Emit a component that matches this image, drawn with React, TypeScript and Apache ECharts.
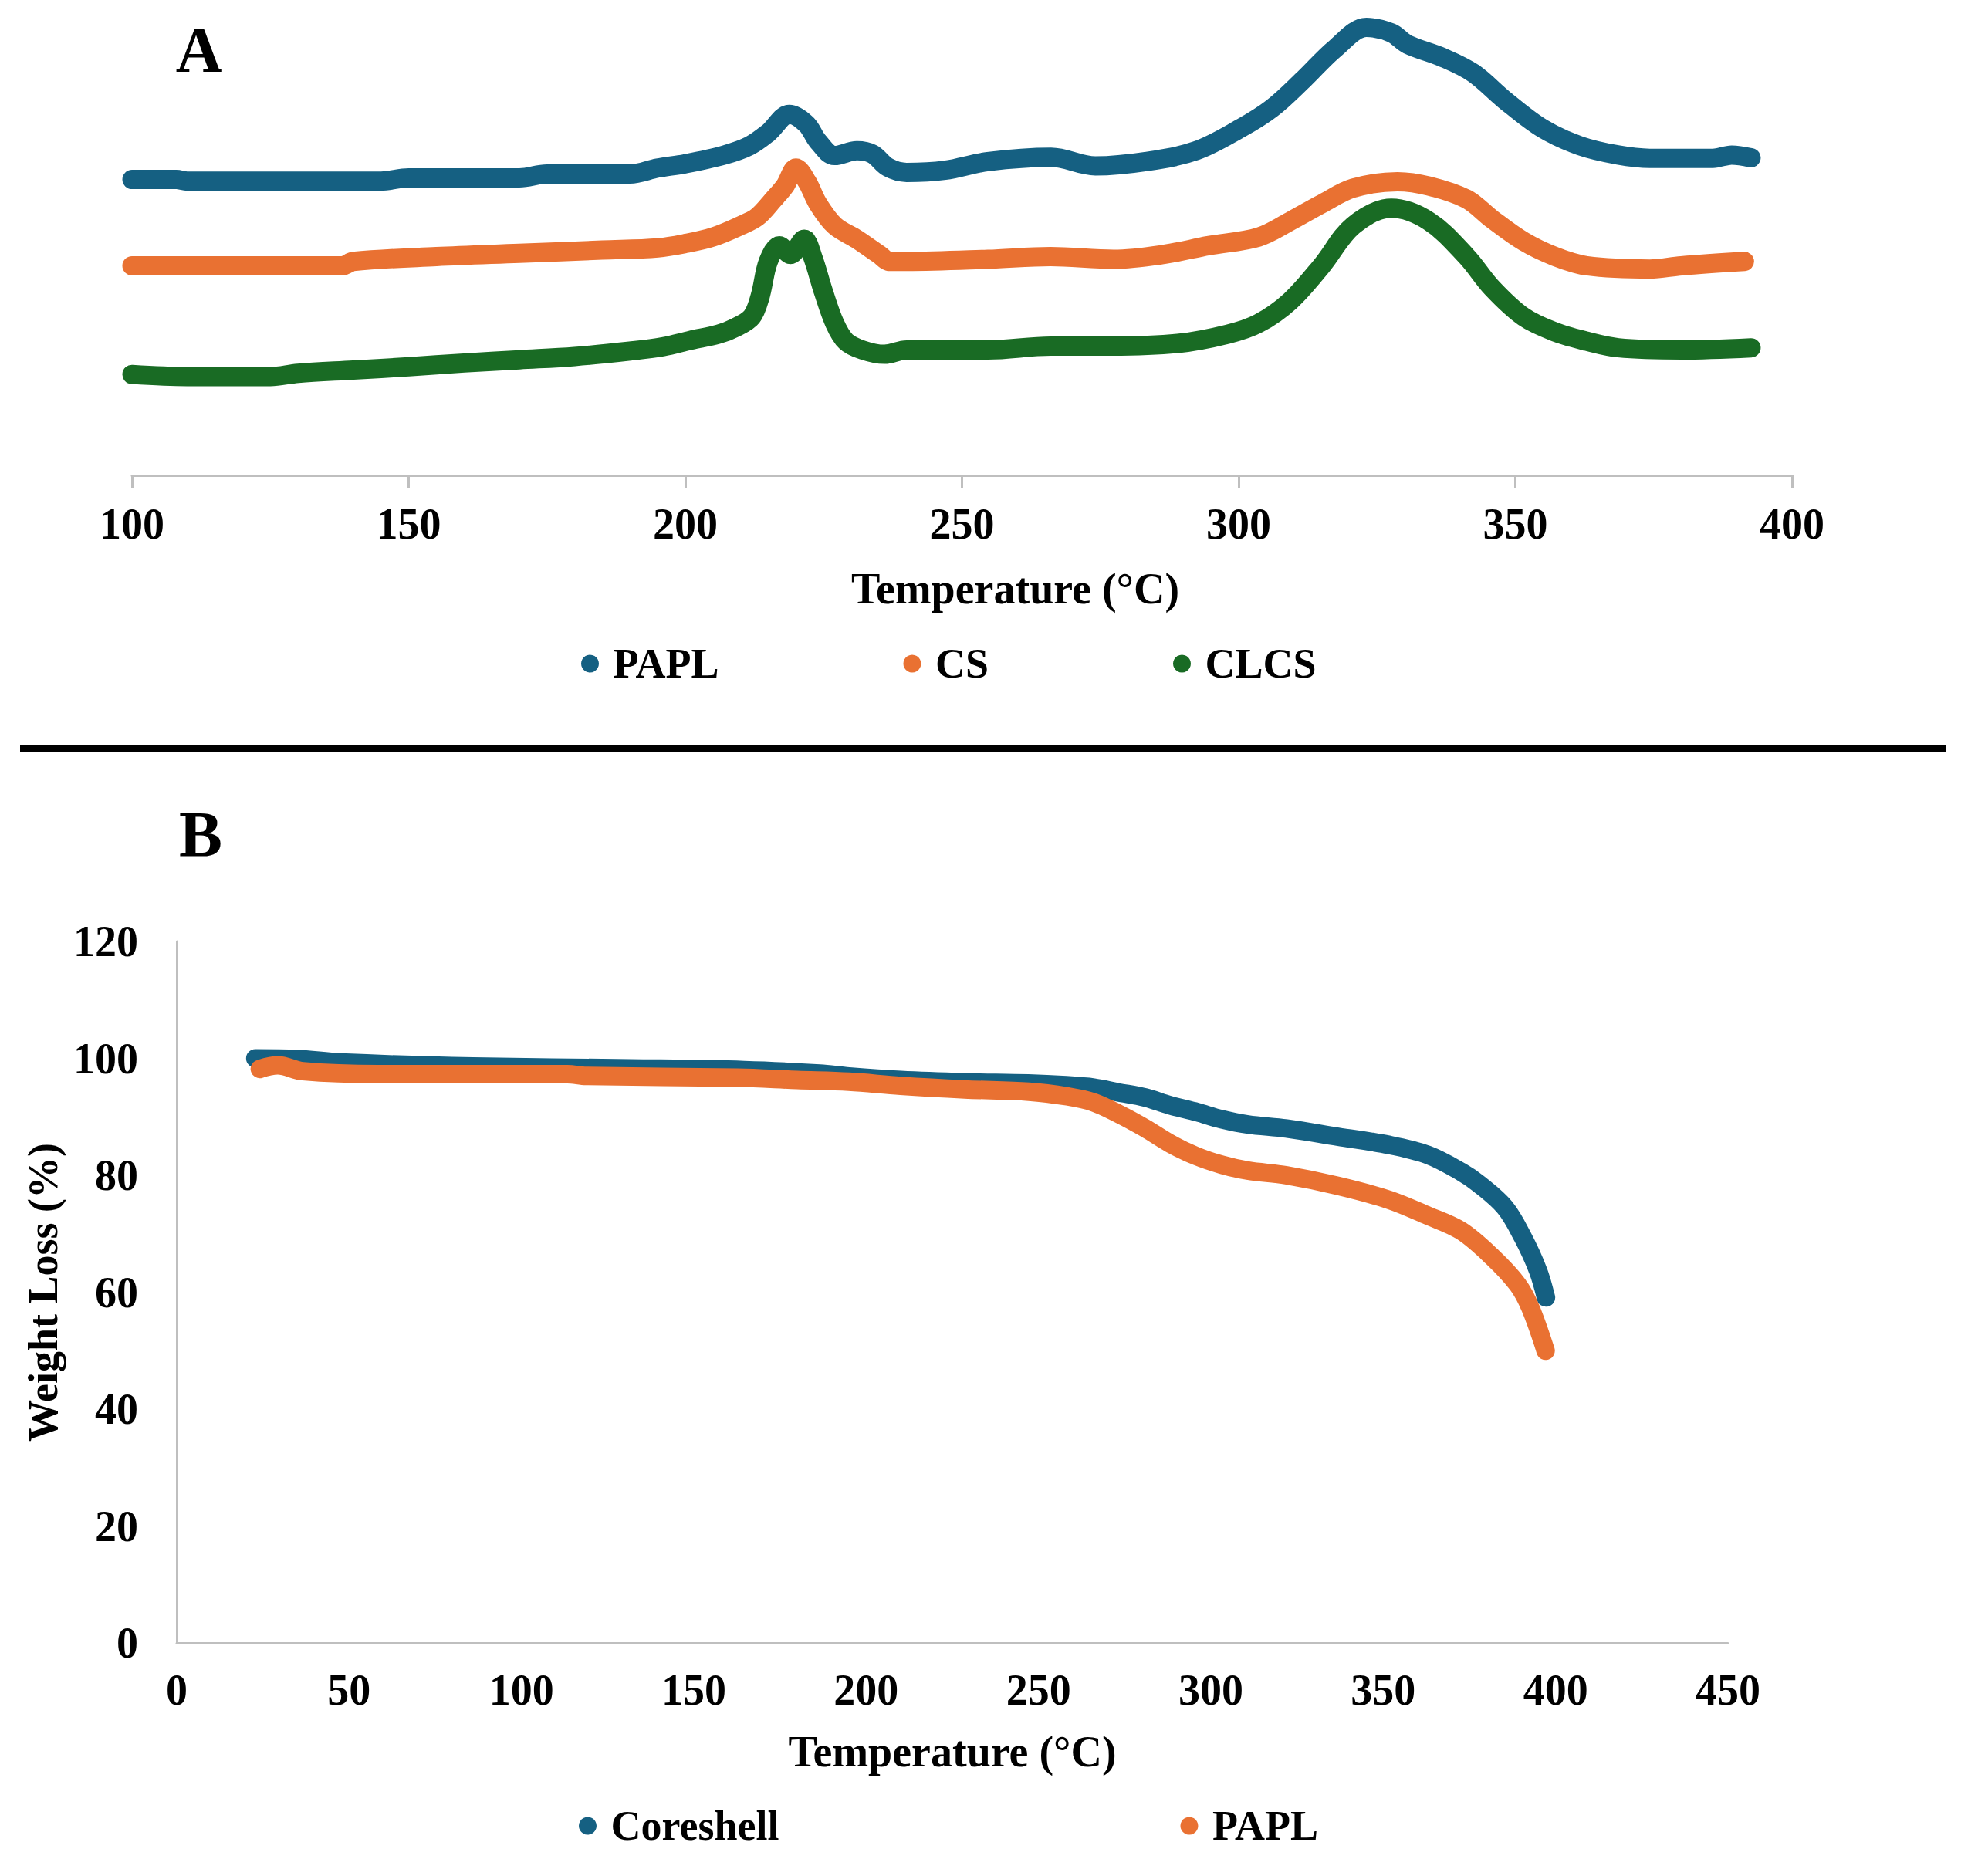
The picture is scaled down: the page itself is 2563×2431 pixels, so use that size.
import React, { useEffect, useRef } from "react";
import * as echarts from "echarts";

// ---------- Panel A : DSC curves (temperature °C, heat flow a.u.) ----------
const dscPAPL: [number, number][] = [
  [100, 5.45], [108, 5.45], [110, 5.42], [145, 5.42], [150, 5.48], [170, 5.48],
  [175, 5.55], [190, 5.55], [195, 5.66], [200, 5.74], [207, 5.9], [211.6, 6.07],
  [215, 6.31], [218.8, 6.65], [221.9, 6.47], [224, 6.15], [227, 5.89], [231, 5.98],
  [233.8, 5.92], [236.7, 5.67], [240, 5.58], [246.9, 5.62], [254.7, 5.78], [266.1, 5.86],
  [274.1, 5.7], [283.2, 5.78], [292.3, 5.98], [300.3, 6.39], [306, 6.76], [311.7, 7.29],
  [317.4, 7.86], [323.1, 8.25], [327.6, 8.15], [330.5, 7.94], [336.8, 7.7], [342.4, 7.41],
  [348, 6.92], [354.9, 6.39], [361.7, 6.07], [368.6, 5.9], [374.3, 5.84], [385.7, 5.84],
  [389.1, 5.9], [392.6, 5.85],
];
const dscCS: [number, number][] = [
  [100, 3.86], [138, 3.86], [140, 3.94], [155, 4.03], [170, 4.09], [185, 4.15],
  [195, 4.19], [200, 4.27], [205, 4.39], [210, 4.6], [213, 4.76], [216, 5.09],
  [218, 5.33], [220, 5.66], [222, 5.41], [224, 5.0], [227, 4.6], [231, 4.35],
  [235, 4.07], [237, 3.94], [240, 3.94], [254.7, 3.98], [266, 4.03], [277.4, 3.98],
  [286.5, 4.07], [294.5, 4.23], [303.6, 4.39], [309.3, 4.68], [315, 5.0], [320.7, 5.29],
  [328.7, 5.41], [334.4, 5.33], [341.2, 5.09], [345.8, 4.72], [351.5, 4.31], [357.2, 4.03],
  [362.9, 3.86], [374.3, 3.8], [380, 3.86], [391.4, 3.94],
];
const dscCLCS: [number, number][] = [
  [100, 1.86], [110, 1.82], [125, 1.82], [130, 1.88], [140, 1.94], [150, 2.0],
  [160, 2.07], [170, 2.13], [180, 2.19], [190, 2.29], [196, 2.37], [201, 2.49],
  [206, 2.6], [209, 2.72], [212, 2.92], [213.5, 3.29], [215, 3.94], [217, 4.23],
  [219, 4.07], [221.5, 4.35], [223, 4.03], [225, 3.37], [227, 2.8], [229, 2.47],
  [232, 2.31], [236, 2.23], [240, 2.31], [254.7, 2.31], [266, 2.38], [277, 2.38],
  [289, 2.43], [298, 2.6], [303.6, 2.8], [309.3, 3.21], [315, 3.86], [320.7, 4.6],
  [327.6, 4.92], [334.4, 4.68], [341.2, 4.03], [345.8, 3.45], [351.5, 2.92], [357.2, 2.64],
  [362.9, 2.47], [368.6, 2.35], [380, 2.31], [392.6, 2.35],
];

// ---------- Panel B : TGA curves (temperature °C, weight %) ----------
const tgaCoreshell: [number, number][] = [
  [22.8, 100.0], [34.7, 99.9], [47.5, 99.3], [85.9, 98.6], [131.6, 98.3], [164.6, 98.0],
  [186.5, 97.4], [195, 96.9], [210, 96.3], [228.6, 95.9], [247, 95.7], [258, 95.4],
  [266, 95.0], [273, 94.2], [281, 93.3], [288, 92.0], [296, 90.8], [303, 89.6],
  [310.7, 88.7], [321.9, 88.0], [336.8, 86.6], [351.7, 85.2], [362.9, 83.5], [372.6, 80.6],
  [377.8, 78.5], [385.3, 74.5], [390.5, 69.4], [394.9, 63.7], [397.2, 59.1],
];
const tgaPAPL: [number, number][] = [
  [24.1, 98.2], [29.3, 98.8], [36.6, 97.8], [58.5, 97.3], [113.3, 97.3], [118.8, 97.0],
  [162.7, 96.7], [180, 96.3], [195, 96.0], [210, 95.3], [228.6, 94.7], [247.2, 94.3],
  [258.4, 93.5], [265.9, 92.5], [273.3, 90.5], [280.8, 88.1], [288.3, 85.4], [295.7, 83.3],
  [303.2, 81.8], [310.7, 80.8], [321.9, 80.0], [336.8, 78.2], [351.7, 75.8], [362.9, 73.1],
  [372.6, 70.5], [381.5, 66.1], [389, 61.3], [392.7, 57.3], [397.1, 50.0],
];

const legendA = ["PAPL", "CS", "CLCS"];
const legendB = ["Coreshell", "PAPL"];

const BLUE = "#156082";
const ORANGE = "#E97132";
const GREEN = "#196B24";
const AXIS_GRAY = "#bfbfbf";
const FONT = "'Times New Roman', 'Liberation Serif', Tinos, serif";

const textBase = { fontFamily: FONT, fontWeight: "bold" as const, color: "#000" };

function lineSeries(name: string, data: [number, number][], color: string, idx: number, width: number) {
  return {
    name,
    type: "line",
    xAxisIndex: idx,
    yAxisIndex: idx,
    data,
    showSymbol: false,
    smooth: 0.35,
    color,
    lineStyle: { color, width, cap: "round", join: "round" },
    emphasis: { disabled: true },
  };
}

export default function App() {
  const ref = useRef<HTMLDivElement>(null);

  useEffect(() => {
    document.body.style.margin = "0";
    document.documentElement.style.overflow = "hidden";
    if (!ref.current) return;
    const chart = echarts.init(ref.current, undefined, { renderer: "svg" });
    chart.setOption({
      animation: false,
      backgroundColor: "#ffffff",
      grid: [
        { left: 171, width: 2151, top: 18, height: 598 },
        { left: 229, width: 2010, top: 1220, height: 909 },
      ],
      xAxis: [
        {
          gridIndex: 0,
          type: "value",
          min: 100,
          max: 400,
          interval: 50,
          axisLine: { show: true, onZero: false, lineStyle: { color: AXIS_GRAY, width: 3 } },
          axisTick: { show: true, length: 17, lineStyle: { color: AXIS_GRAY, width: 3 } },
          splitLine: { show: false },
          axisLabel: { ...textBase, fontSize: 56, margin: 35 },
          name: "Temperature (°C)",
          nameLocation: "middle",
          nameGap: 119,
          nameTextStyle: { ...textBase, fontSize: 56, padding: [0, 0, 0, 138] },
        },
        {
          gridIndex: 1,
          type: "value",
          min: 0,
          max: 450,
          interval: 50,
          axisLine: { show: true, onZero: false, lineStyle: { color: AXIS_GRAY, width: 3 } },
          axisTick: { show: false },
          splitLine: { show: false },
          axisLabel: { ...textBase, fontSize: 56, margin: 33 },
          name: "Temperature (°C)",
          nameLocation: "middle",
          nameGap: 113,
          nameTextStyle: { ...textBase, fontSize: 56 },
        },
      ],
      yAxis: [
        { gridIndex: 0, type: "value", min: 0, max: 8.5, show: false },
        {
          gridIndex: 1,
          type: "value",
          min: 0,
          max: 120,
          interval: 20,
          axisLine: { show: true, onZero: false, lineStyle: { color: AXIS_GRAY, width: 3 } },
          axisTick: { show: false },
          splitLine: { show: false },
          axisLabel: { ...textBase, fontSize: 56, margin: 50 },
          name: "Weight Loss (%)",
          nameLocation: "middle",
          nameRotate: 90,
          nameGap: 146,
          nameTextStyle: { ...textBase, fontSize: 54 },
        },
      ],
      legend: [
        {
          left: 748,
          top: 828,
          orient: "horizontal",
          icon: "circle",
          itemWidth: 50,
          itemHeight: 23,
          itemGap: 239,
          selectedMode: false,
          data: [
            { name: legendA[0], itemStyle: { color: BLUE } },
            { name: legendA[1], itemStyle: { color: ORANGE } },
            { name: legendA[2], itemStyle: { color: GREEN } },
          ],
          textStyle: { ...textBase, fontSize: 54 },
        },
        {
          left: 745,
          top: 2334,
          orient: "horizontal",
          icon: "circle",
          itemWidth: 50,
          itemHeight: 23,
          itemGap: 520,
          selectedMode: false,
          data: [
            { name: legendB[0], itemStyle: { color: BLUE } },
            { name: legendB[1], itemStyle: { color: ORANGE } },
          ],
          textStyle: { ...textBase, fontSize: 54 },
        },
      ],
      graphic: [
        {
          type: "line",
          shape: { x1: 26, y1: 970, x2: 2522, y2: 970 },
          style: { stroke: "#000", lineWidth: 8 },
        },
        {
          type: "text",
          x: 258,
          y: 64,
          style: {
            text: "A",
            fontSize: 84,
            fontWeight: "bold",
            fontFamily: FONT,
            fill: "#000",
            align: "center",
            verticalAlign: "middle",
            textAlign: "center",
            textVerticalAlign: "middle",
          },
        },
        {
          type: "text",
          x: 260,
          y: 1081,
          style: {
            text: "B",
            fontSize: 84,
            fontWeight: "bold",
            fontFamily: FONT,
            fill: "#000",
            align: "center",
            verticalAlign: "middle",
            textAlign: "center",
            textVerticalAlign: "middle",
          },
        },
      ],
      series: [
        lineSeries("PAPL", dscPAPL, BLUE, 0, 25),
        lineSeries("CS", dscCS, ORANGE, 0, 25),
        lineSeries("CLCS", dscCLCS, GREEN, 0, 25),
        lineSeries("Coreshell", tgaCoreshell, BLUE, 1, 24),
        lineSeries("PAPL", tgaPAPL, ORANGE, 1, 24),
      ],
    });
    return () => chart.dispose();
  }, []);

  return <div ref={ref} style={{ width: 2563, height: 2431 }} />;
}
